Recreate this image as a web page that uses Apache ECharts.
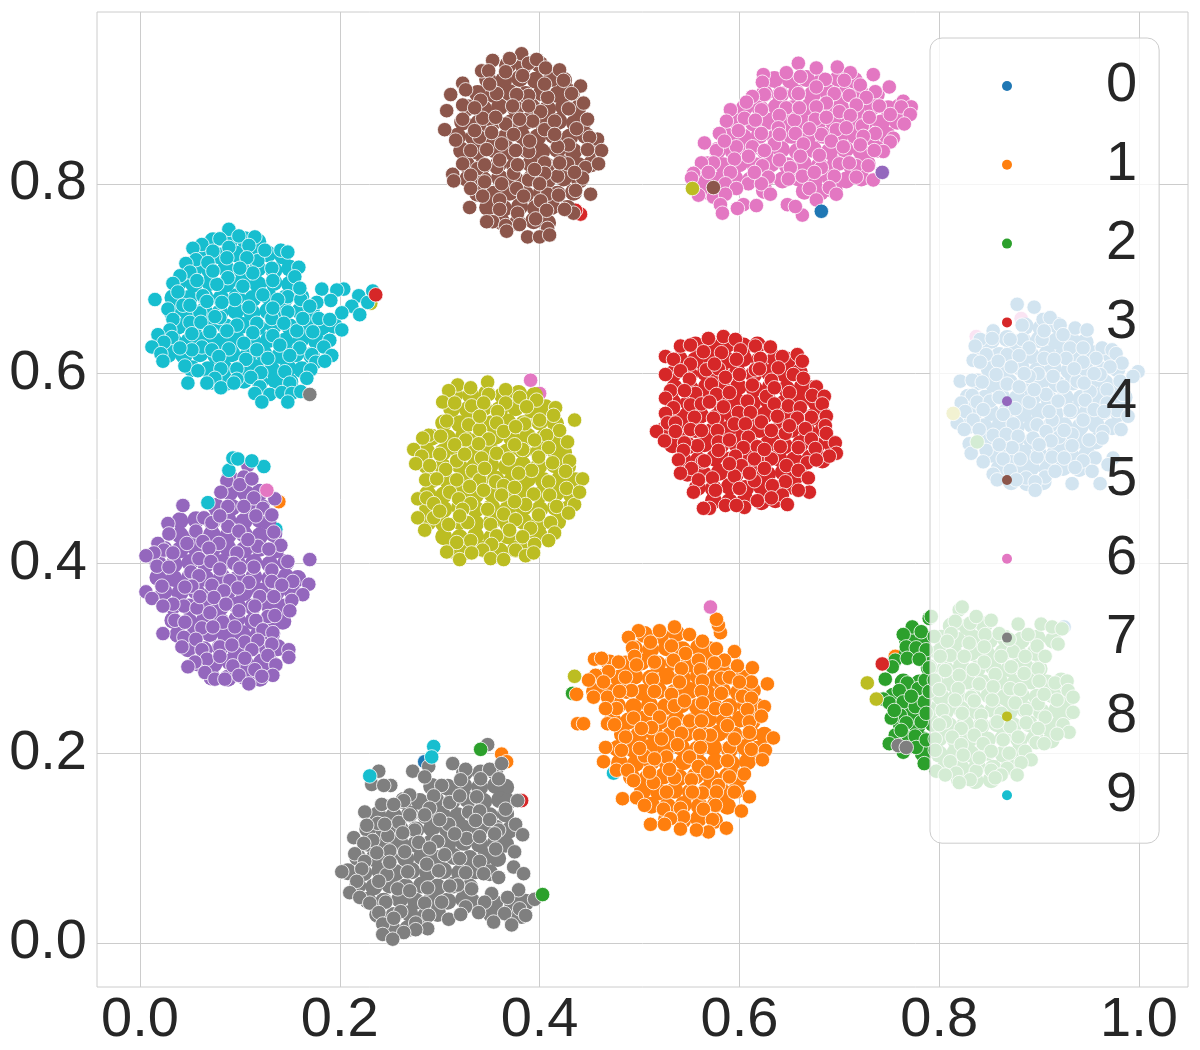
<!DOCTYPE html>
<html>
<head>
<meta charset="utf-8">
<title>Clusters</title>
<script src="https://cdn.jsdelivr.net/npm/echarts@6/dist/echarts.min.js"></script>
<style>
html, body { margin: 0; padding: 0; background: #fff; }
#chart { width: 1200px; height: 1050px; }
</style>
</head>
<body>
<div id="chart"></div>
<script>
const classNames = ['0','1','2','3','4','5','6','7','8','9'];
const xTicks = [0, 0.2, 0.4, 0.6, 0.8, 1.0];
const yTicks = [0, 0.2, 0.4, 0.6, 0.8];

// discs that can be read on top of each cluster
const class0 = [[.878,.673],[.895,.670],[.883,.651],[.904,.657],[.911,.659],[.921,.651],[.936,.648],[.948,.646],[.854,.645],[.841,.636],[.853,.637],[.883,.636],[.903,.636],[.924,.641],[.836,.629],[.871,.636],[.890,.627],[.931,.627],[.944,.627],[.963,.627],[.973,.625],[.847,.620],[.868,.620],[.880,.619],[.905,.616],[.927,.616],[.977,.621],[.834,.614],[.841,.612],[.957,.616],[.944,.612],[.983,.611],[.859,.613],[.872,.607],[.971,.607],[.914,.597],[.899,.600],[.961,.599],[.999,.602],[.994,.597],[.857,.599],[.821,.592],[.833,.593],[.843,.591],[.868,.589],[.890,.597],[.938,.592],[.880,.586],[.981,.592],[.833,.577],[.907,.578],[.924,.586],[.951,.581],[.968,.583],[.984,.578],[.946,.572],[.838,.570],[.919,.571],[.890,.570],[.822,.569],[.851,.571],[.978,.561],[.826,.560],[.844,.562],[.876,.563],[.931,.561],[.955,.562],[.864,.557],[.968,.569],[.834,.551],[.913,.551],[.989,.555],[.818,.548],[.874,.547],[.944,.551],[.825,.541],[.898,.546],[.840,.541],[.933,.536],[.907,.539],[.964,.539],[.982,.541],[.854,.535],[.867,.536],[.920,.533],[.879,.534],[.912,.529],[.963,.532],[.830,.526],[.894,.532],[.933,.524],[.847,.519],[.873,.522],[.832,.516],[.913,.512],[.898,.512],[.956,.511],[.974,.511],[.864,.510],[.881,.510],[.944,.508],[.844,.507],[.969,.504],[.925,.511],[.936,.501],[.854,.494],[.871,.498],[.906,.491],[.953,.497],[.887,.490],[.916,.497],[.858,.488],[.896,.486],[.933,.484],[.961,.484],[.896,.477],[.877,.488],[.905,.645],[.935,.605],[.915,.615],[.895,.583],[.860,.575],[.910,.560],[.950,.530],[.925,.540],[.860,.525],[.945,.590],[.965,.560],[.955,.600],[.900,.525],[.885,.600]];

const class1 = [[.581,.327],[.579,.335],[.577,.341],[.535,.333],[.520,.329],[.499,.329],[.550,.325],[.489,.322],[.511,.317],[.563,.318],[.493,.311],[.532,.313],[.577,.310],[.595,.307],[.546,.305],[.455,.299],[.462,.300],[.495,.302],[.515,.296],[.534,.298],[.559,.298],[.585,.298],[.479,.296],[.497,.293],[.575,.295],[.598,.292],[.613,.290],[.469,.286],[.542,.289],[.561,.288],[.456,.282],[.486,.280],[.513,.278],[.449,.277],[.464,.275],[.563,.276],[.582,.279],[.612,.275],[.628,.273],[.492,.266],[.532,.262],[.437,.262],[.562,.265],[.582,.263],[.603,.260],[.454,.259],[.468,.259],[.612,.258],[.563,.253],[.477,.247],[.511,.246],[.466,.247],[.576,.247],[.587,.246],[.608,.246],[.625,.249],[.520,.238],[.494,.237],[.550,.234],[.562,.234],[.535,.231],[.610,.233],[.622,.239],[.438,.231],[.444,.231],[.468,.231],[.512,.227],[.588,.229],[.502,.226],[.571,.219],[.542,.221],[.610,.222],[.486,.217],[.560,.219],[.634,.216],[.538,.209],[.466,.206],[.590,.206],[.561,.206],[.482,.203],[.612,.204],[.626,.203],[.505,.197],[.527,.196],[.550,.196],[.515,.194],[.623,.193],[.464,.191],[.588,.192],[.559,.186],[.477,.182],[.568,.180],[.488,.182],[.605,.178],[.535,.174],[.552,.172],[.494,.171],[.514,.169],[.579,.166],[.527,.159],[.595,.159],[.563,.158],[.577,.159],[.610,.154],[.483,.152],[.497,.153],[.553,.159],[.505,.145],[.524,.141],[.576,.145],[.602,.139],[.541,.142],[.564,.141],[.544,.133],[.531,.131],[.511,.125],[.573,.130],[.587,.121],[.569,.117],[.541,.120],[.557,.119],[.525,.125],[.515,.265],[.540,.275],[.590,.280],[.535,.250],[.595,.215],[.522,.215],[.500,.205],[.530,.183],[.510,.180],[.590,.175],[.480,.265],[.475,.230],[.600,.275],[.545,.255]];

const class2 = [[.790,.342],[.773,.333],[.764,.325],[.782,.328],[.767,.312],[.777,.311],[.787,.309],[.756,.298],[.768,.300],[.780,.299],[.753,.291],[.746,.278],[.768,.274],[.779,.268],[.760,.266],[.786,.277],[.744,.257],[.750,.253],[.764,.254],[.776,.249],[.785,.254],[.761,.240],[.752,.237],[.782,.233],[.767,.232],[.787,.242],[.756,.219],[.776,.218],[.762,.224],[.750,.210],[.777,.206],[.764,.201],[.785,.189],[.787,.214],[.772,.260],[.755,.245],[.790,.290],[.790,.265],[.792,.344],[.820,.351],[.823,.354],[.816,.339],[.831,.337],[.837,.344],[.852,.340],[.879,.336],[.902,.336],[.913,.333],[.923,.331],[.812,.326],[.795,.323],[.846,.325],[.860,.326],[.889,.325],[.830,.316],[.808,.318],[.898,.313],[.919,.315],[.874,.307],[.811,.303],[.801,.302],[.825,.302],[.862,.302],[.886,.302],[.906,.302],[.845,.296],[.872,.291],[.899,.289],[.806,.287],[.885,.284],[.820,.282],[.856,.283],[.834,.288],[.795,.277],[.840,.273],[.900,.276],[.916,.274],[.928,.276],[.871,.268],[.800,.267],[.881,.267],[.819,.268],[.929,.266],[.854,.270],[.832,.259],[.934,.259],[.918,.256],[.853,.256],[.816,.256],[.899,.252],[.876,.253],[.803,.245],[.934,.243],[.823,.242],[.887,.245],[.842,.240],[.862,.242],[.906,.238],[.806,.233],[.924,.230],[.887,.232],[.871,.228],[.842,.229],[.822,.226],[.858,.233],[.930,.222],[.918,.220],[.835,.219],[.813,.217],[.899,.226],[.796,.215],[.879,.217],[.897,.211],[.844,.210],[.864,.214],[.822,.209],[.796,.203],[.886,.202],[.870,.200],[.824,.198],[.852,.202],[.892,.193],[.811,.191],[.882,.190],[.868,.184],[.797,.181],[.837,.181],[.852,.182],[.817,.179],[.878,.177],[.862,.177],[.806,.177],[.831,.172],[.820,.169],[.856,.174],[.845,.312],[.870,.320],[.905,.262],[.840,.195],[.905,.210],[.800,.230],[.835,.255]];

const class3 = [[.569,.637],[.584,.639],[.596,.636],[.541,.629],[.551,.630],[.616,.629],[.631,.628],[.526,.618],[.534,.615],[.564,.623],[.582,.622],[.601,.625],[.621,.616],[.643,.618],[.658,.620],[.663,.613],[.551,.610],[.597,.615],[.567,.604],[.541,.603],[.579,.605],[.526,.599],[.639,.606],[.616,.604],[.600,.599],[.654,.599],[.550,.594],[.586,.596],[.664,.595],[.572,.589],[.613,.588],[.632,.593],[.531,.582],[.677,.586],[.556,.579],[.577,.578],[.650,.580],[.526,.574],[.673,.577],[.608,.571],[.627,.576],[.685,.576],[.683,.568],[.534,.564],[.551,.567],[.584,.565],[.562,.568],[.635,.568],[.649,.566],[.661,.564],[.599,.559],[.526,.558],[.611,.559],[.672,.554],[.555,.554],[.638,.555],[.574,.553],[.622,.549],[.658,.553],[.687,.555],[.528,.548],[.536,.548],[.595,.547],[.606,.547],[.686,.545],[.666,.542],[.517,.539],[.536,.539],[.551,.541],[.562,.540],[.578,.540],[.632,.540],[.646,.537],[.687,.537],[.525,.529],[.609,.533],[.672,.531],[.696,.527],[.558,.524],[.579,.528],[.545,.527],[.604,.522],[.618,.523],[.641,.523],[.659,.522],[.544,.519],[.579,.519],[.676,.521],[.697,.516],[.690,.513],[.539,.509],[.596,.513],[.615,.510],[.632,.510],[.563,.507],[.668,.506],[.677,.509],[.647,.503],[.552,.500],[.625,.500],[.602,.503],[.541,.495],[.659,.498],[.573,.490],[.595,.492],[.615,.487],[.646,.486],[.669,.490],[.633,.482],[.559,.488],[.576,.477],[.600,.479],[.554,.475],[.670,.475],[.659,.477],[.643,.472],[.618,.466],[.586,.461],[.570,.458],[.564,.458],[.605,.459],[.632,.469],[.648,.462],[.597,.461],[.545,.582],[.590,.580],[.650,.545],[.620,.605],[.590,.530],[.590,.505],[.625,.520],[.570,.570],[.635,.585],[.565,.508],[.610,.495],[.575,.610]];

const class4 = [[.108,.503],[.104,.491],[.087,.487],[.100,.483],[.112,.489],[.081,.475],[.135,.468],[.114,.469],[.043,.461],[.088,.460],[.104,.460],[.123,.458],[.132,.451],[.116,.450],[.064,.448],[.072,.443],[.028,.442],[.088,.439],[.099,.434],[.056,.434],[.029,.431],[.134,.433],[.047,.421],[.079,.421],[.063,.423],[.018,.421],[.118,.418],[.141,.419],[.069,.416],[.129,.415],[.024,.414],[.014,.411],[.033,.411],[.097,.411],[.006,.408],[.059,.405],[.071,.402],[.094,.400],[.170,.404],[.148,.402],[.017,.397],[.029,.396],[.114,.396],[.132,.393],[.051,.391],[.080,.394],[.059,.387],[.132,.381],[.090,.382],[.109,.380],[.022,.376],[.153,.381],[.169,.378],[.142,.377],[.052,.376],[.006,.370],[.072,.377],[.098,.374],[.163,.367],[.012,.363],[.084,.371],[.120,.365],[.134,.365],[.074,.364],[.152,.361],[.044,.355],[.033,.357],[.086,.357],[.057,.353],[.023,.355],[.099,.350],[.150,.350],[.128,.344],[.035,.340],[.116,.340],[.083,.338],[.062,.332],[.073,.333],[.123,.330],[.095,.333],[.023,.326],[.044,.322],[.056,.320],[.133,.327],[.105,.317],[.118,.319],[.080,.312],[.092,.314],[.042,.312],[.132,.315],[.149,.309],[.062,.309],[.112,.309],[.128,.303],[.067,.299],[.149,.301],[.055,.296],[.136,.293],[.093,.292],[.080,.302],[.115,.288],[.105,.300],[.099,.282],[.133,.282],[.065,.285],[.075,.278],[.085,.278],[.109,.273],[.122,.281],[.048,.291],[.108,.425],[.080,.450],[.060,.365],[.045,.375],[.115,.355],[.135,.345],[.045,.338],[.100,.395],[.070,.348]];

const class5 = [[.382,.937],[.353,.930],[.370,.932],[.342,.919],[.349,.919],[.389,.927],[.397,.931],[.406,.922],[.420,.920],[.366,.918],[.383,.914],[.424,.909],[.323,.906],[.326,.899],[.311,.894],[.441,.903],[.432,.895],[.408,.891],[.389,.893],[.377,.894],[.357,.895],[.341,.888],[.323,.883],[.307,.877],[.444,.885],[.429,.879],[.401,.876],[.373,.882],[.389,.882],[.343,.869],[.323,.868],[.366,.863],[.393,.866],[.448,.868],[.437,.858],[.405,.857],[.305,.857],[.316,.846],[.340,.849],[.352,.854],[.374,.852],[.458,.847],[.450,.849],[.429,.841],[.418,.839],[.389,.834],[.362,.842],[.376,.835],[.347,.836],[.331,.835],[.462,.835],[.448,.836],[.323,.821],[.338,.816],[.357,.817],[.405,.822],[.428,.821],[.446,.817],[.459,.821],[.313,.810],[.331,.809],[.374,.811],[.418,.808],[.443,.806],[.345,.802],[.314,.803],[.389,.804],[.405,.811],[.331,.795],[.377,.795],[.436,.793],[.408,.789],[.419,.788],[.384,.787],[.451,.789],[.401,.782],[.360,.783],[.330,.775],[.343,.787],[.378,.769],[.360,.773],[.407,.772],[.434,.769],[.425,.773],[.396,.763],[.353,.760],[.347,.760],[.366,.756],[.380,.757],[.408,.753],[.388,.744],[.400,.744],[.410,.746],[.367,.750],[.356,.870],[.380,.868],[.415,.866],[.335,.856],[.415,.852],[.360,.825],[.395,.815],[.345,.820],[.362,.800],[.420,.822],[.400,.800],[.378,.820],[.350,.905],[.405,.905],[.335,.880],[.390,.845],[.435,.812]];

const class6 = [[.659,.927],[.677,.922],[.698,.923],[.624,.915],[.647,.917],[.711,.917],[.734,.915],[.623,.907],[.661,.913],[.686,.910],[.705,.909],[.721,.904],[.750,.902],[.677,.902],[.641,.895],[.659,.895],[.695,.895],[.625,.894],[.736,.897],[.710,.893],[.727,.891],[.613,.892],[.764,.887],[.607,.886],[.687,.885],[.717,.883],[.740,.882],[.772,.881],[.762,.881],[.591,.878],[.622,.878],[.647,.880],[.677,.881],[.700,.876],[.751,.873],[.640,.872],[.605,.869],[.655,.867],[.676,.868],[.687,.870],[.711,.872],[.771,.873],[.587,.866],[.765,.863],[.723,.861],[.616,.867],[.580,.853],[.599,.856],[.622,.853],[.656,.853],[.697,.857],[.707,.859],[.682,.852],[.736,.853],[.639,.859],[.724,.850],[.754,.848],[.565,.843],[.597,.839],[.613,.839],[.635,.842],[.664,.842],[.692,.845],[.704,.839],[.751,.844],[.577,.835],[.609,.829],[.661,.829],[.721,.841],[.744,.834],[.595,.826],[.574,.822],[.640,.825],[.700,.821],[.682,.817],[.717,.819],[.729,.819],[.562,.822],[.623,.819],[.651,.817],[.591,.812],[.569,.812],[.554,.811],[.629,.807],[.649,.805],[.663,.808],[.695,.808],[.717,.807],[.734,.804],[.552,.806],[.586,.800],[.609,.800],[.622,.800],[.670,.795],[.690,.796],[.597,.795],[.559,.788],[.574,.786],[.586,.789],[.631,.789],[.697,.789],[.677,.783],[.604,.778],[.617,.777],[.648,.778],[.581,.778],[.583,.769],[.663,.767],[.656,.776],[.598,.774],[.680,.830],[.735,.835],[.675,.812],[.625,.835],[.585,.845],[.710,.822],[.615,.812],[.640,.852],[.670,.858],[.730,.870],[.660,.880]];

const class7 = [[.348,.209],[.273,.181],[.289,.186],[.239,.181],[.313,.189],[.326,.183],[.285,.175],[.232,.167],[.350,.183],[.359,.173],[.362,.189],[.341,.173],[.321,.172],[.251,.166],[.244,.166],[.302,.166],[.337,.154],[.294,.155],[.270,.156],[.264,.150],[.242,.146],[.254,.146],[.310,.148],[.378,.150],[.329,.138],[.290,.142],[.366,.141],[.225,.138],[.340,.139],[.336,.129],[.259,.127],[.238,.126],[.227,.124],[.275,.119],[.309,.125],[.376,.125],[.359,.119],[.263,.116],[.248,.113],[.383,.114],[.214,.111],[.327,.110],[.340,.112],[.233,.108],[.298,.107],[.279,.106],[.224,.105],[.356,.099],[.250,.097],[.265,.096],[.237,.095],[.215,.094],[.375,.096],[.305,.093],[.225,.086],[.320,.089],[.340,.086],[.287,.083],[.374,.080],[.222,.078],[.202,.075],[.268,.075],[.299,.076],[.326,.074],[.344,.073],[.384,.073],[.247,.072],[.359,.069],[.239,.065],[.217,.065],[.318,.061],[.258,.057],[.332,.057],[.288,.058],[.379,.056],[.210,.053],[.352,.052],[.368,.048],[.220,.048],[.246,.043],[.285,.042],[.302,.043],[.395,.046],[.345,.043],[.230,.042],[.326,.038],[.261,.033],[.339,.032],[.380,.036],[.239,.032],[.289,.029],[.365,.031],[.309,.025],[.321,.030],[.386,.029],[.243,.020],[.276,.021],[.354,.022],[.372,.019],[.254,.026],[.288,.015],[.276,.014],[.264,.011],[.243,.009],[.253,.004],[.285,.135],[.315,.115],[.300,.130],[.350,.130],[.270,.135],[.250,.085],[.270,.055],[.310,.060],[.355,.115],[.320,.155],[.245,.125],[.290,.100]];

const class8 = [[.348,.591],[.318,.588],[.309,.582],[.366,.583],[.331,.585],[.303,.570],[.315,.569],[.349,.578],[.380,.575],[.397,.572],[.332,.566],[.344,.569],[.366,.569],[.387,.565],[.416,.564],[.358,.560],[.414,.556],[.435,.551],[.307,.550],[.329,.546],[.357,.548],[.385,.547],[.400,.551],[.340,.541],[.420,.540],[.364,.539],[.376,.544],[.289,.535],[.301,.534],[.407,.535],[.283,.532],[.349,.531],[.428,.528],[.326,.530],[.315,.525],[.339,.526],[.274,.520],[.383,.520],[.409,.522],[.357,.516],[.282,.513],[.399,.512],[.342,.511],[.369,.510],[.317,.508],[.430,.508],[.276,.505],[.290,.503],[.413,.506],[.306,.499],[.392,.498],[.426,.497],[.333,.497],[.379,.495],[.286,.488],[.297,.489],[.340,.488],[.356,.486],[.409,.486],[.443,.489],[.317,.488],[.364,.482],[.330,.481],[.427,.479],[.375,.480],[.310,.475],[.344,.477],[.410,.472],[.394,.473],[.362,.472],[.278,.468],[.287,.469],[.319,.468],[.294,.463],[.386,.462],[.435,.462],[.331,.463],[.348,.457],[.323,.457],[.417,.460],[.399,.451],[.364,.452],[.429,.453],[.278,.448],[.294,.448],[.376,.446],[.328,.443],[.351,.441],[.411,.443],[.309,.441],[.285,.435],[.391,.437],[.415,.432],[.357,.429],[.383,.428],[.331,.424],[.409,.424],[.395,.420],[.317,.422],[.352,.420],[.307,.412],[.343,.414],[.376,.414],[.320,.404],[.351,.405],[.364,.404],[.386,.408],[.394,.411],[.332,.411],[.375,.525],[.340,.555],[.320,.450],[.300,.515],[.325,.515],[.345,.500],[.375,.465],[.440,.475],[.395,.530],[.300,.455],[.370,.435]];

const class9 = [[.089,.752],[.099,.745],[.115,.744],[.080,.742],[.062,.736],[.053,.732],[.073,.729],[.089,.733],[.109,.735],[.141,.730],[.148,.728],[.056,.720],[.068,.717],[.046,.716],[.118,.719],[.132,.711],[.159,.712],[.050,.707],[.040,.703],[.057,.698],[.088,.701],[.113,.706],[.155,.702],[.133,.698],[.077,.694],[.103,.692],[.033,.695],[.038,.686],[.063,.682],[.095,.678],[.123,.683],[.148,.681],[.161,.678],[.015,.678],[.138,.678],[.082,.675],[.182,.689],[.204,.689],[.197,.688],[.191,.677],[.219,.682],[.228,.675],[.233,.687],[.212,.671],[.177,.675],[.028,.668],[.043,.672],[.109,.670],[.060,.664],[.148,.665],[.170,.671],[.220,.662],[.202,.664],[.080,.659],[.132,.658],[.033,.657],[.179,.658],[.190,.657],[.097,.651],[.050,.654],[.061,.654],[.117,.653],[.144,.653],[.202,.646],[.087,.645],[.157,.645],[.173,.644],[.113,.643],[.030,.646],[.018,.641],[.052,.642],[.133,.640],[.032,.638],[.024,.633],[.190,.635],[.104,.632],[.062,.628],[.089,.626],[.117,.625],[.160,.627],[.052,.625],[.072,.625],[.184,.628],[.012,.628],[.021,.621],[.192,.619],[.150,.619],[.172,.620],[.023,.613],[.079,.618],[.106,.615],[.128,.616],[.176,.612],[.185,.613],[.045,.608],[.081,.605],[.058,.603],[.097,.605],[.121,.601],[.145,.602],[.171,.604],[.111,.596],[.097,.594],[.075,.595],[.167,.595],[.048,.590],[.067,.590],[.081,.585],[.094,.590],[.120,.586],[.150,.590],[.130,.578],[.142,.580],[.152,.579],[.161,.581],[.115,.579],[.122,.570],[.148,.570],[.067,.676],[.050,.672],[.070,.644],[.107,.722],[.100,.711],[.073,.708],[.133,.669],[.163,.658],[.040,.627],[.140,.630],[.087,.722],[.125,.730],[.075,.660],[.160,.690]];

// hidden discs under the readable ones, estimated so the clusters stay solid
const inner0 = [[.886,.650],[.902,.648],[.918,.651],[.852,.635],[.868,.637],[.884,.634],[.900,.636],[.917,.634],[.932,.636],[.946,.633],[.844,.621],[.860,.619],[.876,.622],[.892,.619],[.908,.621],[.924,.620],[.940,.618],[.956,.621],[.972,.619],[.850,.605],[.866,.604],[.882,.606],[.898,.603],[.914,.606],[.930,.603],[.946,.605],[.962,.604],[.978,.605],[.838,.591],[.854,.589],[.870,.591],[.886,.588],[.902,.591],[.918,.589],[.934,.591],[.950,.588],[.966,.590],[.982,.589],[.829,.575],[.846,.574],[.862,.576],[.878,.574],[.894,.576],[.910,.573],[.926,.575],[.942,.574],[.958,.576],[.974,.574],[.985,.575],[.836,.560],[.852,.559],[.868,.561],[.884,.558],[.900,.560],[.916,.558],[.932,.561],[.948,.559],[.964,.560],[.980,.558],[.829,.545],[.845,.544],[.861,.546],[.877,.544],[.893,.546],[.909,.543],[.925,.545],[.941,.544],[.957,.546],[.973,.544],[.845,.530],[.861,.529],[.877,.531],[.893,.529],[.909,.531],[.925,.528],[.941,.530],[.957,.529],[.852,.515],[.868,.514],[.884,.516],[.900,.514],[.916,.516],[.932,.513],[.948,.515],[.860,.500],[.876,.499],[.892,.501],[.908,.499],[.924,.501],[.940,.500],[.872,.486],[.888,.485],[.904,.486]];

const inner1 = [[.505,.325],[.521,.324],[.537,.326],[.495,.310],[.511,.309],[.527,.311],[.543,.309],[.559,.311],[.570,.309],[.470,.295],[.486,.294],[.502,.296],[.518,.294],[.534,.296],[.550,.294],[.566,.296],[.582,.294],[.463,.280],[.479,.279],[.495,.281],[.511,.279],[.527,.281],[.543,.279],[.559,.281],[.575,.279],[.591,.281],[.606,.279],[.455,.265],[.471,.264],[.487,.266],[.503,.264],[.519,.266],[.535,.264],[.551,.266],[.567,.264],[.583,.266],[.599,.264],[.613,.266],[.478,.250],[.494,.249],[.510,.251],[.526,.249],[.542,.251],[.558,.249],[.574,.251],[.590,.249],[.606,.251],[.618,.249],[.473,.235],[.489,.234],[.505,.236],[.521,.234],[.537,.236],[.553,.234],[.569,.236],[.585,.234],[.601,.236],[.613,.234],[.483,.220],[.499,.219],[.515,.221],[.531,.219],[.547,.221],[.563,.219],[.579,.221],[.595,.219],[.611,.221],[.625,.219],[.478,.205],[.494,.204],[.510,.206],[.526,.204],[.542,.206],[.558,.204],[.574,.206],[.590,.204],[.606,.206],[.618,.204],[.480,.190],[.496,.189],[.512,.191],[.528,.189],[.544,.191],[.560,.189],[.576,.191],[.592,.189],[.608,.191],[.492,.175],[.508,.174],[.524,.176],[.540,.174],[.556,.176],[.572,.174],[.588,.176],[.600,.174],[.503,.160],[.519,.159],[.535,.161],[.551,.159],[.567,.161],[.583,.159],[.597,.161],[.512,.145],[.528,.144],[.544,.146],[.560,.144],[.576,.146],[.588,.144],[.527,.130],[.543,.129],[.559,.131],[.575,.129]];

const inner2 = [[.812,.334],[.828,.333],[.845,.335],[.768,.320],[.784,.319],[.802,.321],[.818,.319],[.834,.321],[.850,.319],[.866,.321],[.882,.319],[.898,.321],[.914,.319],[.768,.305],[.784,.304],[.800,.306],[.816,.304],[.832,.306],[.848,.304],[.864,.306],[.880,.304],[.896,.306],[.790,.290],[.806,.289],[.822,.291],[.838,.289],[.854,.291],[.870,.289],[.886,.291],[.900,.289],[.764,.275],[.780,.274],[.796,.276],[.812,.274],[.828,.276],[.844,.274],[.860,.276],[.876,.274],[.892,.276],[.908,.274],[.922,.276],[.754,.260],[.770,.259],[.786,.261],[.802,.259],[.818,.261],[.834,.259],[.850,.261],[.866,.259],[.882,.261],[.898,.259],[.914,.261],[.928,.259],[.758,.245],[.774,.244],[.790,.246],[.806,.244],[.822,.246],[.838,.244],[.854,.246],[.870,.244],[.886,.246],[.902,.244],[.918,.246],[.930,.244],[.762,.230],[.778,.229],[.794,.231],[.810,.229],[.826,.231],[.842,.229],[.858,.231],[.874,.229],[.890,.231],[.906,.229],[.920,.231],[.768,.215],[.784,.214],[.800,.216],[.816,.214],[.832,.216],[.848,.214],[.864,.216],[.880,.214],[.896,.216],[.912,.214],[.784,.200],[.800,.199],[.816,.201],[.832,.199],[.848,.201],[.864,.199],[.880,.201],[.806,.185],[.822,.184],[.838,.186],[.854,.184],[.870,.186],[.820,.172],[.836,.171],[.852,.172]];

const inner3 = [[.556,.630],[.572,.629],[.588,.631],[.604,.629],[.618,.630],[.540,.615],[.556,.614],[.572,.616],[.588,.614],[.604,.616],[.620,.614],[.636,.616],[.648,.614],[.534,.600],[.550,.599],[.566,.601],[.582,.599],[.598,.601],[.614,.599],[.630,.601],[.646,.599],[.660,.601],[.535,.585],[.551,.584],[.567,.586],[.583,.584],[.599,.586],[.615,.584],[.631,.586],[.647,.584],[.663,.586],[.672,.584],[.533,.570],[.549,.569],[.565,.571],[.581,.569],[.597,.571],[.613,.569],[.629,.571],[.645,.569],[.661,.571],[.677,.569],[.529,.555],[.545,.554],[.561,.556],[.577,.554],[.593,.556],[.609,.554],[.625,.556],[.641,.554],[.657,.556],[.673,.554],[.684,.556],[.524,.540],[.540,.539],[.556,.541],[.572,.539],[.588,.541],[.604,.539],[.620,.541],[.636,.539],[.652,.541],[.668,.539],[.684,.541],[.533,.525],[.549,.524],[.565,.526],[.581,.524],[.597,.526],[.613,.524],[.629,.526],[.645,.524],[.661,.526],[.677,.524],[.692,.526],[.543,.510],[.559,.509],[.575,.511],[.591,.509],[.607,.511],[.623,.509],[.639,.511],[.655,.509],[.671,.511],[.683,.509],[.548,.495],[.564,.494],[.580,.496],[.596,.494],[.612,.496],[.628,.494],[.644,.496],[.660,.494],[.558,.480],[.574,.479],[.590,.481],[.606,.479],[.622,.481],[.638,.479],[.654,.481],[.574,.466],[.590,.465],[.606,.467],[.622,.465],[.636,.467]];

const inner4 = [[.090,.490],[.106,.489],[.090,.475],[.106,.474],[.120,.475],[.076,.460],[.092,.459],[.108,.461],[.122,.459],[.040,.445],[.056,.446],[.072,.444],[.088,.446],[.104,.444],[.120,.446],[.128,.444],[.040,.430],[.056,.429],[.072,.431],[.088,.429],[.104,.431],[.120,.429],[.134,.431],[.024,.415],[.040,.414],[.056,.416],[.072,.414],[.088,.416],[.104,.414],[.120,.416],[.136,.414],[.018,.400],[.034,.399],[.050,.401],[.066,.399],[.082,.401],[.098,.399],[.114,.401],[.130,.399],[.146,.401],[.018,.385],[.034,.384],[.050,.386],[.066,.384],[.082,.386],[.098,.384],[.114,.386],[.130,.384],[.146,.386],[.158,.384],[.024,.370],[.040,.369],[.056,.371],[.072,.369],[.088,.371],[.104,.369],[.120,.371],[.136,.369],[.152,.371],[.033,.355],[.049,.354],[.065,.356],[.081,.354],[.097,.356],[.113,.354],[.129,.356],[.145,.354],[.033,.340],[.049,.339],[.065,.341],[.081,.339],[.097,.341],[.113,.339],[.129,.341],[.143,.339],[.038,.325],[.054,.324],[.070,.326],[.086,.324],[.102,.326],[.118,.324],[.132,.326],[.048,.310],[.064,.309],[.080,.311],[.096,.309],[.112,.311],[.128,.309],[.138,.311],[.058,.295],[.074,.294],[.090,.296],[.106,.294],[.122,.296],[.132,.294],[.072,.280],[.088,.279],[.104,.281],[.120,.279]];

const inner5 = [[.368,.925],[.384,.924],[.400,.926],[.348,.910],[.364,.909],[.380,.911],[.396,.909],[.412,.911],[.424,.909],[.338,.895],[.354,.894],[.370,.896],[.386,.894],[.402,.896],[.418,.894],[.432,.896],[.328,.880],[.344,.879],[.360,.881],[.376,.879],[.392,.881],[.408,.879],[.424,.881],[.438,.879],[.323,.865],[.339,.864],[.355,.866],[.371,.864],[.387,.866],[.403,.864],[.419,.866],[.435,.864],[.444,.866],[.318,.850],[.334,.849],[.350,.851],[.366,.849],[.382,.851],[.398,.849],[.414,.851],[.430,.849],[.446,.851],[.322,.835],[.338,.834],[.354,.836],[.370,.834],[.386,.836],[.402,.834],[.418,.836],[.434,.834],[.450,.836],[.327,.820],[.343,.819],[.359,.821],[.375,.819],[.391,.821],[.407,.819],[.423,.821],[.439,.819],[.452,.821],[.328,.805],[.344,.804],[.360,.806],[.376,.804],[.392,.806],[.408,.804],[.424,.806],[.440,.804],[.338,.790],[.354,.789],[.370,.791],[.386,.789],[.402,.791],[.418,.789],[.434,.791],[.348,.775],[.364,.774],[.380,.776],[.396,.774],[.412,.776],[.428,.774],[.362,.760],[.378,.759],[.394,.761],[.408,.759]];

const inner6 = [[.635,.910],[.651,.909],[.667,.911],[.683,.909],[.699,.911],[.715,.909],[.625,.895],[.641,.894],[.657,.896],[.673,.894],[.689,.896],[.705,.894],[.721,.896],[.737,.894],[.605,.880],[.621,.879],[.637,.881],[.653,.879],[.669,.881],[.685,.879],[.701,.881],[.717,.879],[.733,.881],[.749,.879],[.760,.881],[.598,.865],[.614,.864],[.630,.866],[.646,.864],[.662,.866],[.678,.864],[.694,.866],[.710,.864],[.726,.866],[.742,.864],[.758,.866],[.588,.850],[.604,.849],[.620,.851],[.636,.849],[.652,.851],[.668,.849],[.684,.851],[.700,.849],[.716,.851],[.732,.849],[.748,.851],[.578,.835],[.594,.834],[.610,.836],[.626,.834],[.642,.836],[.658,.834],[.674,.836],[.690,.834],[.706,.836],[.722,.834],[.738,.836],[.568,.820],[.584,.819],[.600,.821],[.616,.819],[.632,.821],[.648,.819],[.664,.821],[.680,.819],[.696,.821],[.712,.819],[.728,.821],[.563,.805],[.579,.804],[.595,.806],[.611,.804],[.627,.806],[.643,.804],[.659,.806],[.675,.804],[.691,.806],[.707,.804],[.722,.806],[.568,.792],[.584,.791],[.625,.793],[.665,.792],[.681,.791],[.695,.793]];

const inner7 = [[.325,.180],[.341,.179],[.355,.181],[.292,.165],[.308,.164],[.324,.166],[.340,.164],[.356,.166],[.366,.164],[.264,.150],[.280,.149],[.296,.151],[.312,.149],[.328,.151],[.344,.149],[.360,.151],[.368,.149],[.238,.135],[.254,.134],[.270,.136],[.286,.134],[.302,.136],[.318,.134],[.334,.136],[.350,.134],[.366,.136],[.228,.120],[.244,.119],[.260,.121],[.276,.119],[.292,.121],[.308,.119],[.324,.121],[.340,.119],[.356,.121],[.370,.119],[.228,.105],[.244,.104],[.260,.106],[.276,.104],[.292,.106],[.308,.104],[.324,.106],[.340,.104],[.356,.106],[.366,.104],[.218,.090],[.234,.089],[.250,.091],[.266,.089],[.282,.091],[.298,.089],[.314,.091],[.330,.089],[.346,.091],[.358,.089],[.208,.075],[.224,.074],[.240,.076],[.256,.074],[.272,.076],[.288,.074],[.304,.076],[.320,.074],[.336,.076],[.350,.074],[.218,.060],[.234,.059],[.250,.061],[.266,.059],[.282,.061],[.298,.059],[.314,.061],[.330,.059],[.228,.045],[.244,.044],[.260,.046],[.276,.044],[.292,.046],[.308,.044],[.324,.046],[.332,.044],[.355,.042],[.372,.045],[.386,.043],[.238,.030],[.254,.029],[.270,.031],[.286,.029],[.298,.031],[.352,.030],[.368,.031],[.382,.029],[.252,.016],[.268,.015]];

const inner8 = [[.315,.578],[.331,.577],[.347,.579],[.363,.577],[.379,.579],[.395,.577],[.312,.563],[.328,.562],[.344,.564],[.360,.562],[.376,.564],[.392,.562],[.406,.564],[.304,.548],[.320,.547],[.336,.549],[.352,.547],[.368,.549],[.384,.547],[.400,.549],[.416,.547],[.292,.533],[.308,.532],[.324,.534],[.340,.532],[.356,.534],[.372,.532],[.388,.534],[.404,.532],[.418,.534],[.287,.518],[.303,.517],[.319,.519],[.335,.517],[.351,.519],[.367,.517],[.383,.519],[.399,.517],[.415,.519],[.424,.517],[.287,.503],[.303,.502],[.319,.504],[.335,.502],[.351,.504],[.367,.502],[.383,.504],[.399,.502],[.415,.504],[.428,.502],[.292,.488],[.308,.487],[.324,.489],[.340,.487],[.356,.489],[.372,.487],[.388,.489],[.404,.487],[.420,.489],[.436,.487],[.288,.473],[.304,.472],[.320,.474],[.336,.472],[.352,.474],[.368,.472],[.384,.474],[.400,.472],[.416,.474],[.432,.472],[.288,.458],[.304,.457],[.320,.459],[.336,.457],[.352,.459],[.368,.457],[.384,.459],[.400,.457],[.416,.459],[.428,.457],[.288,.443],[.304,.442],[.320,.444],[.336,.442],[.352,.444],[.368,.442],[.384,.444],[.400,.442],[.418,.444],[.304,.428],[.320,.427],[.336,.429],[.352,.427],[.368,.429],[.384,.427],[.400,.429],[.312,.414],[.328,.413],[.344,.415],[.360,.413],[.376,.415],[.390,.413]];

const inner9 = [[.073,.740],[.089,.739],[.105,.741],[.118,.739],[.064,.725],[.080,.724],[.096,.726],[.112,.724],[.128,.726],[.143,.724],[.054,.710],[.070,.709],[.086,.711],[.102,.709],[.118,.711],[.134,.709],[.150,.711],[.038,.695],[.054,.694],[.070,.696],[.086,.694],[.102,.696],[.118,.694],[.134,.696],[.150,.694],[.033,.680],[.049,.679],[.065,.681],[.081,.679],[.097,.681],[.113,.679],[.129,.681],[.145,.679],[.161,.681],[.032,.665],[.048,.664],[.064,.666],[.080,.664],[.096,.666],[.112,.664],[.128,.666],[.144,.664],[.160,.666],[.172,.664],[.038,.650],[.054,.649],[.070,.651],[.086,.649],[.102,.651],[.118,.649],[.134,.651],[.150,.649],[.166,.651],[.182,.649],[.194,.651],[.033,.635],[.049,.634],[.065,.636],[.081,.634],[.097,.636],[.113,.634],[.129,.636],[.145,.634],[.161,.636],[.177,.634],[.028,.620],[.044,.619],[.060,.621],[.076,.619],[.092,.621],[.108,.619],[.124,.621],[.140,.619],[.156,.621],[.172,.619],[.052,.605],[.068,.604],[.084,.606],[.100,.604],[.116,.606],[.132,.604],[.148,.606],[.162,.604],[.072,.592],[.088,.591],[.104,.593],[.120,.591],[.136,.593],[.150,.591]];

// stray points: [class, x, y], drawn below or above the clusters
const underPoints = [[2,.433,.263],[9,.474,.179],[1,.139,.465],[9,.136,.436],[6,.400,.579],[3,.415,.524],[8,.231,.674],[1,.362,.199],[1,.367,.191],[3,.382,.150],[0,.285,.191],[1,.756,.302],[0,.925,.333],[6,.882,.658],[6,.837,.639],[3,.441,.768],[3,.436,.772]];
const overPoints = [[8,.553,.795],[5,.574,.796],[0,.682,.771],[4,.743,.812],[3,.236,.683],[7,.170,.578],[6,.391,.593],[9,.089,.498],[9,.068,.464],[9,.124,.502],[9,.093,.511],[9,.098,.510],[9,.112,.508],[6,.127,.477],[6,.571,.354],[8,.435,.281],[9,.294,.207],[9,.292,.196],[9,.230,.176],[2,.341,.204],[2,.403,.051],[3,.743,.294],[8,.728,.274],[8,.737,.257],[7,.759,.208],[7,.767,.206],[8,.814,.558],[2,.838,.528]];

const palette = ['#1f77b4','#ff7f0e','#2ca02c','#d62728','#9467bd','#8c564b','#e377c2','#7f7f7f','#bcbd22','#17becf'];
const clusters = [class0, class1, class2, class3, class4, class5, class6, class7, class8, class9];
const inners = [inner0, inner1, inner2, inner3, inner4, inner5, inner6, inner7, inner8, inner9];

function makeSeries(name, data, color, size, border){
	return {
		name: name,
		type: 'scatter',
		data: data,
		symbol: 'circle',
		symbolSize: size,
		itemStyle: { color: color, opacity: 1, borderColor: '#fff', borderWidth: border },
		silent: true,
		animation: false
	};
}

const series = [];
classNames.forEach((name, i) => {
	series.push(makeSeries(name, underPoints.filter(p => p[0] === i).map(p => [p[1], p[2]]), palette[i], 14.5, 0.8));
});
classNames.forEach((name, i) => series.push(makeSeries(name, inners[i], palette[i], 17, 0)));
classNames.forEach((name, i) => series.push(makeSeries(name, clusters[i], palette[i], 14.5, 0.8)));
classNames.forEach((name, i) => {
	series.push(makeSeries(name, overPoints.filter(p => p[0] === i).map(p => [p[1], p[2]]), palette[i], 14.5, 0.8));
});

const tickFont = { fontFamily: 'Liberation Sans', fontSize: 56, color: '#262626' };
const chart = echarts.init(document.getElementById('chart'), null, { renderer: 'canvas' });
chart.setOption({
	animation: false,
	backgroundColor: '#fff',
	color: palette,
	grid: { left: 97, top: 12, width: 1091, height: 975, show: true, borderColor: '#cccccc', borderWidth: 1, backgroundColor: 'transparent', outerBoundsMode: 'none' },
	xAxis: {
		type: 'value', min: -0.043, max: 1.049,
		axisLine: { show: false },
		axisTick: { show: false, customValues: xTicks },
		axisLabel: Object.assign({ margin: 6, customValues: xTicks, formatter: v => v.toFixed(1) }, tickFont),
		splitLine: { show: true, lineStyle: { color: '#cccccc', width: 1 } }
	},
	yAxis: {
		type: 'value', min: -0.0464, max: 0.981,
		axisLine: { show: false },
		axisTick: { show: false, customValues: yTicks },
		axisLabel: Object.assign({ margin: 10, customValues: yTicks, formatter: v => v.toFixed(1) }, tickFont),
		splitLine: { show: true, lineStyle: { color: '#cccccc', width: 1 } }
	},
	legend: {
		data: classNames,
		orient: 'vertical',
		left: 930,
		top: 38,
		padding: [20, 22, 20, 72],
		itemWidth: 98,
		itemHeight: 10,
		itemGap: 22.8,
		icon: 'circle',
		selectedMode: false,
		backgroundColor: 'rgba(255,255,255,0.8)',
		borderColor: '#cccccc',
		borderWidth: 1,
		borderRadius: 12,
		itemStyle: { borderWidth: 0 },
		textStyle: Object.assign({ padding: [0, 0, 0, 45] }, tickFont),
		z: 10
	},
	series: series
});
</script>
</body>
</html>
